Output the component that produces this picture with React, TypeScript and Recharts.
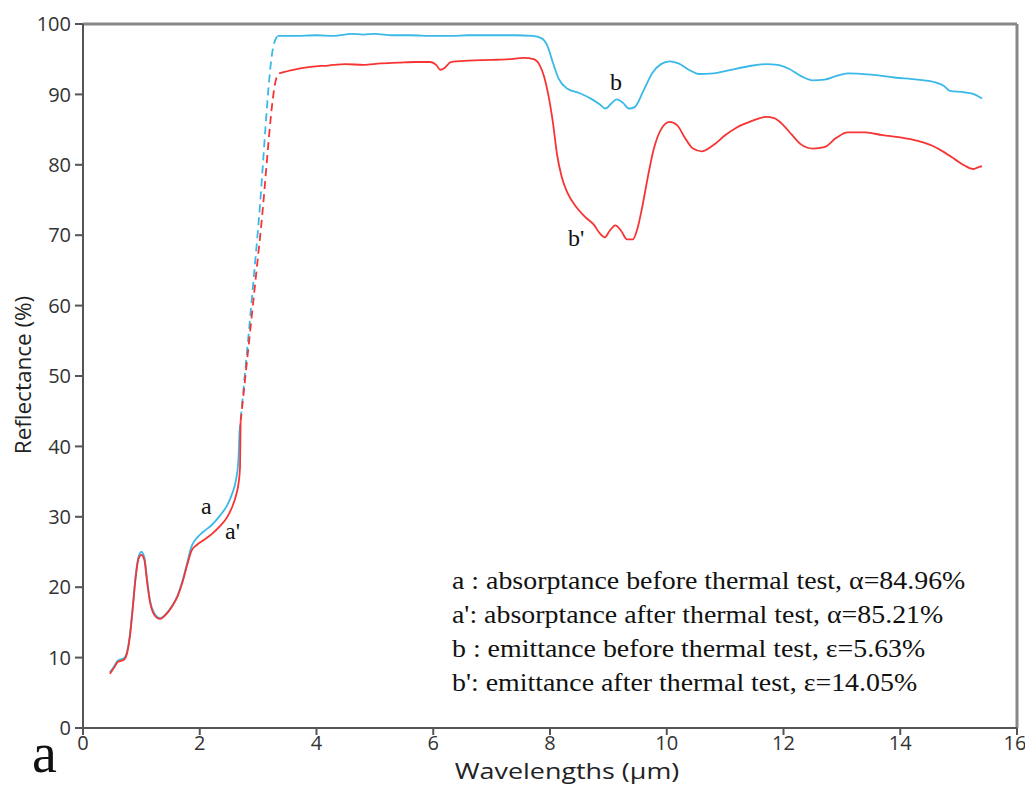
import React from "react";
import { LineChart, Line, XAxis, YAxis, ReferenceLine } from "recharts";

// [wavelength (µm), reflectance (%)]
const blueLow: [number, number][] = [
  [0.46, 7.9], [0.52, 8.6], [0.6, 9.6], [0.7, 9.9], [0.76, 11], [0.8, 13],
  [0.85, 17], [0.9, 21.5], [0.95, 24.3], [1.0, 25.0], [1.05, 24.3], [1.1, 21],
  [1.15, 18], [1.22, 16.3], [1.32, 15.6], [1.42, 16.2], [1.52, 17.3],
  [1.62, 18.8], [1.7, 20.8], [1.78, 23.3], [1.86, 25.8], [1.95, 27.0],
  [2.05, 27.8], [2.2, 28.8], [2.35, 30.2], [2.48, 31.8], [2.56, 33.4],
  [2.62, 35.2], [2.66, 37.8], [2.68, 42],
];
const blueDash: [number, number][] = [
  [2.68, 42], [3.0, 71], [3.26, 96.8], [3.33, 98.3],
];
const blueHigh: [number, number][] = [
  [3.33, 98.3], [3.6, 98.3], [4.0, 98.4], [4.3, 98.3], [4.6, 98.6], [4.8, 98.5],
  [5.0, 98.6], [5.3, 98.4], [5.6, 98.4], [6.0, 98.3], [6.3, 98.3], [6.6, 98.4],
  [7.0, 98.4], [7.4, 98.4], [7.7, 98.3], [7.85, 98.0], [7.95, 97], [8.05, 94.5],
  [8.15, 92.2], [8.3, 90.8], [8.5, 90.2], [8.7, 89.4], [8.85, 88.6], [8.95, 88.0],
  [9.05, 88.7], [9.14, 89.3], [9.25, 88.8], [9.35, 88.0], [9.45, 88.2],
  [9.6, 90.5], [9.75, 93], [9.9, 94.3], [10.05, 94.7], [10.2, 94.4], [10.4, 93.4],
  [10.55, 92.9], [10.8, 93.0], [11.1, 93.5], [11.4, 94.0], [11.7, 94.3],
  [11.9, 94.2], [12.1, 93.6], [12.3, 92.6], [12.5, 92.0], [12.7, 92.1],
  [12.9, 92.6], [13.1, 93.0], [13.5, 92.8], [13.9, 92.4], [14.3, 92.1],
  [14.6, 91.7], [14.75, 91.2], [14.85, 90.5], [15.1, 90.3], [15.3, 89.9],
  [15.4, 89.4],
];

const redLow: [number, number][] = [
  [0.46, 7.7], [0.52, 8.4], [0.6, 9.4], [0.7, 9.7], [0.76, 10.8], [0.8, 12.8],
  [0.85, 16.8], [0.9, 21.2], [0.95, 24], [1.0, 24.6], [1.05, 23.9], [1.1, 20.6],
  [1.15, 17.8], [1.22, 16.1], [1.32, 15.5], [1.42, 16.1], [1.52, 17.2],
  [1.62, 18.7], [1.7, 20.6], [1.78, 23], [1.86, 25.2], [1.95, 26],
  [2.05, 26.6], [2.2, 27.5], [2.35, 28.7], [2.48, 30.1], [2.56, 31.5],
  [2.62, 33], [2.66, 34.5], [2.69, 37], [2.7, 43.5],
];
const redDash: [number, number][] = [
  [2.7, 43.5], [3.04, 70.3], [3.32, 92.5], [3.36, 93.0],
];
const redHigh: [number, number][] = [
  [3.36, 93.0], [3.6, 93.5], [3.9, 93.9], [4.2, 94.1], [4.5, 94.3], [4.8, 94.2],
  [5.1, 94.4], [5.4, 94.5], [5.7, 94.6], [5.95, 94.6], [6.05, 94.2],
  [6.12, 93.5], [6.2, 93.8], [6.3, 94.6], [6.6, 94.8], [7.0, 94.9], [7.3, 95.0],
  [7.55, 95.2], [7.72, 95.0], [7.82, 94.2], [7.9, 92.5], [7.97, 90], [8.05, 86],
  [8.12, 81.5], [8.2, 78.3], [8.3, 76], [8.45, 74], [8.6, 72.6], [8.75, 71.5],
  [8.85, 70.3], [8.94, 69.7], [9.02, 70.6], [9.12, 71.4], [9.22, 70.6],
  [9.32, 69.4], [9.42, 69.4], [9.5, 71], [9.58, 74], [9.67, 78], [9.77, 82],
  [9.9, 85], [10.05, 86.1], [10.18, 85.6], [10.3, 84.0], [10.45, 82.3],
  [10.6, 81.9], [10.8, 82.8], [11.0, 84.2], [11.2, 85.3], [11.45, 86.2],
  [11.7, 86.8], [11.85, 86.6], [12.0, 85.6], [12.15, 84.2], [12.3, 82.9],
  [12.5, 82.3], [12.7, 82.5], [12.9, 83.8], [13.1, 84.6], [13.4, 84.6],
  [13.7, 84.2], [14.0, 83.9], [14.3, 83.4], [14.55, 82.7], [14.75, 81.8],
  [14.95, 80.7], [15.1, 79.9], [15.25, 79.4], [15.32, 79.6], [15.4, 79.8],
];

const xTicks = [0, 2, 4, 6, 8, 10, 12, 14, 16];
const yTicks = [0, 10, 20, 30, 40, 50, 60, 70, 80, 90, 100];

const legendLines = [
  "a : absorptance before thermal test, α=84.96%",
  "a': absorptance after thermal test, α=85.21%",
  "b : emittance before thermal test, ε=5.63%",
  "b': emittance after thermal test, ε=14.05%",
];

const BLUE = "#3ab8e8";
const RED = "#f73434";
const AXIS = "#555";
const SANS = "'Open Sans', sans-serif";

const toRows = (pts: [number, number][]) => pts.map(([x, y]) => ({ x, y }));

const serif: React.CSSProperties = {
  position: "absolute",
  fontFamily: "'Liberation Serif', serif",
  color: "#111",
  whiteSpace: "nowrap",
  lineHeight: 1,
};

const sansTitle: React.CSSProperties = {
  position: "absolute",
  fontFamily: SANS,
  fontSize: 21,
  color: "#222",
  whiteSpace: "nowrap",
  lineHeight: 0.9,
};

export default function App() {
  const series = [
    { key: "blueLow", pts: blueLow, color: BLUE, dash: undefined },
    { key: "blueDash", pts: blueDash, color: BLUE, dash: "8 5" },
    { key: "blueHigh", pts: blueHigh, color: BLUE, dash: undefined },
    { key: "redLow", pts: redLow, color: RED, dash: undefined },
    { key: "redDash", pts: redDash, color: RED, dash: "8 5" },
    { key: "redHigh", pts: redHigh, color: RED, dash: undefined },
  ];

  return (
    <div
      style={{
        position: "absolute",
        left: 0,
        top: 0,
        width: 1025,
        height: 786,
        background: "#fff",
        overflow: "hidden",
      }}
    >
      <LineChart
        width={1025}
        height={786}
        margin={{ top: 24, right: 8, bottom: 28, left: 33 }}
      >
        <XAxis
          dataKey="x"
          type="number"
          domain={[0, 16]}
          ticks={xTicks}
          allowDuplicatedCategory={false}
          height={30}
          stroke={AXIS}
          strokeWidth={2}
          tickSize={7}
          tickMargin={1}
          tick={{ fontSize: 20, fill: "#333", fontFamily: SANS }}
        />
        <YAxis
          type="number"
          domain={[0, 100]}
          ticks={yTicks}
          width={50}
          stroke={AXIS}
          strokeWidth={2}
          tickSize={8}
          tickMargin={4}
          tick={{ fontSize: 20, fill: "#333", fontFamily: SANS }}
        />
        <ReferenceLine y={100} stroke="#888" strokeWidth={3} />
        <ReferenceLine x={16} stroke="#888" strokeWidth={3} />
        {series.map((s) => (
          <Line
            key={s.key}
            data={toRows(s.pts)}
            dataKey="y"
            type="monotone"
            stroke={s.color}
            strokeWidth={1.8}
            strokeDasharray={s.dash}
            dot={false}
            activeDot={false}
            isAnimationActive={false}
          />
        ))}
      </LineChart>

      <div
        style={{
          ...sansTitle,
          left: 567,
          top: 762,
          transform: "translateX(-50%) scaleX(1.28)",
        }}
      >
        Wavelengths (µm)
      </div>
      <div
        style={{
          ...sansTitle,
          left: 23,
          top: 375,
          transform: "translate(-50%, -50%) rotate(-90deg) scaleX(1.07)",
        }}
      >
        Reflectance (%)
      </div>

      <div style={{ ...serif, left: 201, top: 494, fontSize: 24 }}>a</div>
      <div style={{ ...serif, left: 225, top: 519, fontSize: 24 }}>a'</div>
      <div style={{ ...serif, left: 610, top: 70, fontSize: 24 }}>b</div>
      <div style={{ ...serif, left: 568, top: 226, fontSize: 24 }}>b'</div>
      <div style={{ ...serif, left: 32, top: 734, fontSize: 56, lineHeight: 0.7 }}>
        a
      </div>

      {legendLines.map((t, i) => (
        <div
          key={t}
          style={{
            ...serif,
            left: 452,
            top: 568 + i * 34,
            fontSize: 25,
            transform: "scaleX(1.115)",
            transformOrigin: "left",
          }}
        >
          {t}
        </div>
      ))}
    </div>
  );
}
